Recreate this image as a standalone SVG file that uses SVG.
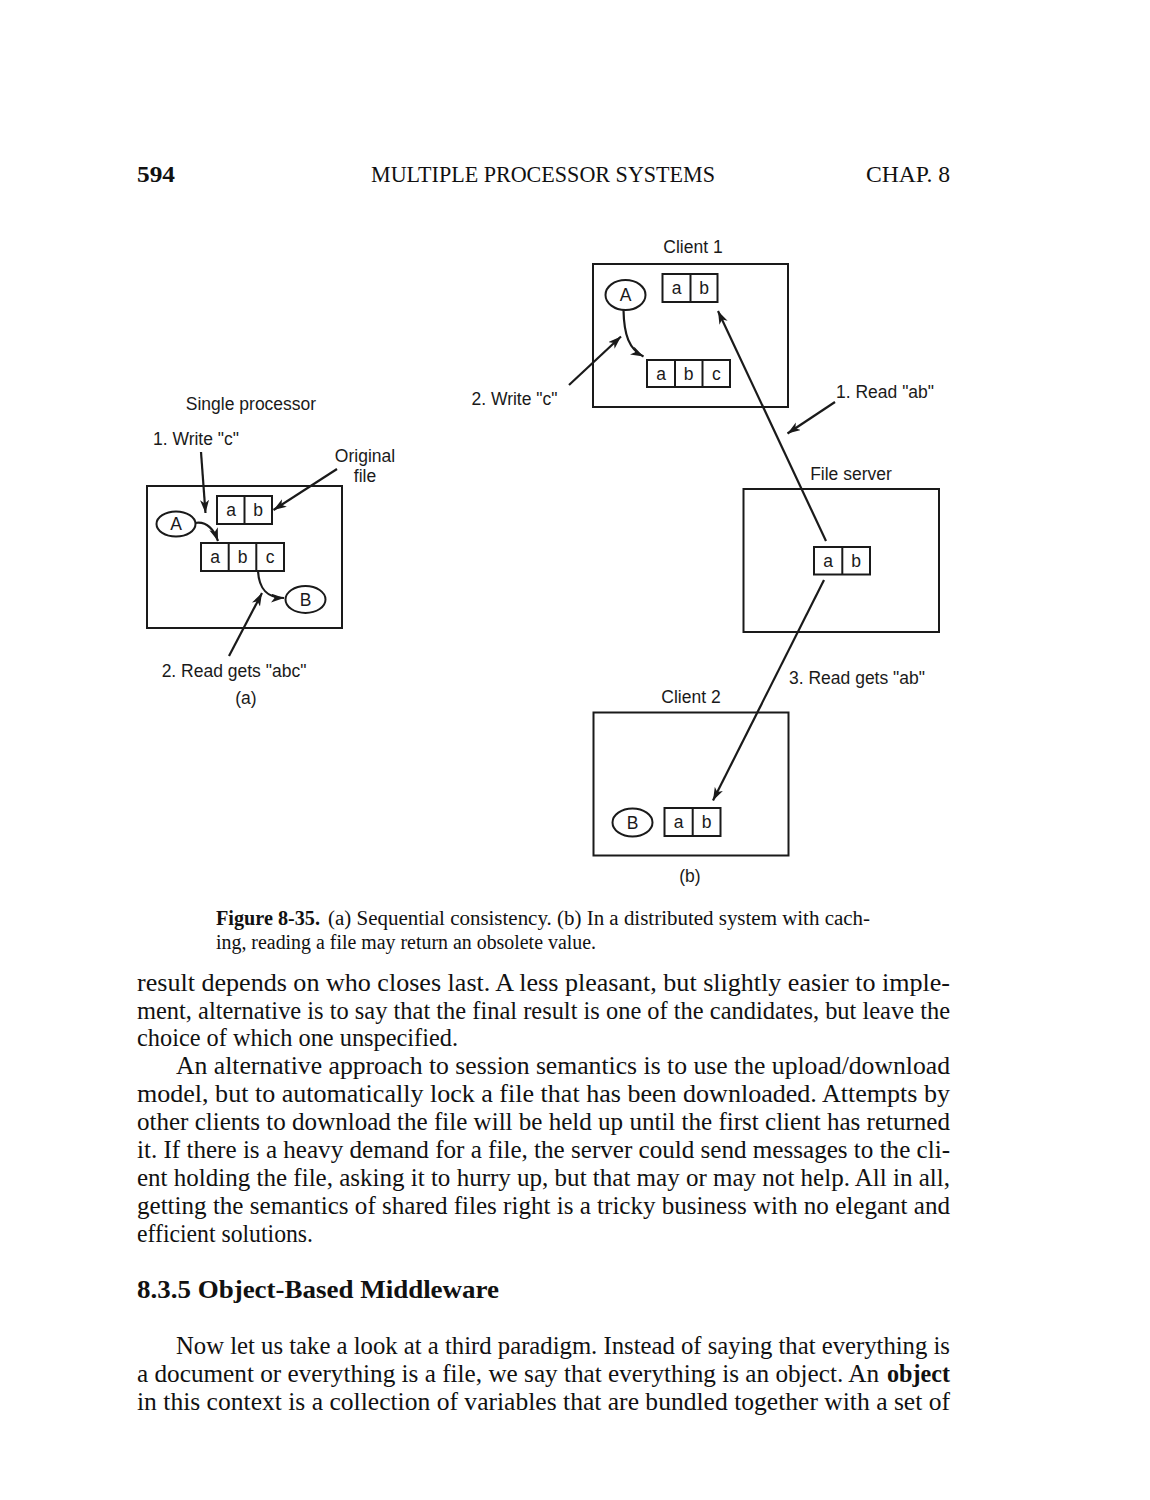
<svg xmlns="http://www.w3.org/2000/svg" width="1150" height="1500" viewBox="0 0 1150 1500">
<style>
.bg{fill:#ffffff}
.box{fill:none;stroke:#1a1a1a;stroke-width:2}
.ln{fill:none;stroke:#1a1a1a;stroke-width:2.2}
.lbl{font-family:"Liberation Sans",Arial,sans-serif;font-size:17.5px;fill:#1a1a1a}
.c{text-anchor:middle}
.cell{font-family:"Liberation Sans",Arial,sans-serif;font-size:17.5px;fill:#1a1a1a;text-anchor:middle}
.body{font-family:"Liberation Serif","Times New Roman",serif;font-size:25px;fill:#111}
.cap{font-family:"Liberation Serif","Times New Roman",serif;font-size:20px;fill:#111}
.hdr{font-family:"Liberation Serif","Times New Roman",serif;font-size:24px;fill:#111}
.b{font-weight:bold}
</style>
<defs>
<marker id="ah" markerUnits="userSpaceOnUse" markerWidth="14" markerHeight="10" refX="13" refY="4.5" orient="auto">
<path d="M0,0 L13,4.5 L0,9 L3.5,4.5 z" fill="#1a1a1a"/>
</marker>
</defs>
<rect class="bg" x="0" y="0" width="1150" height="1500"/>

<g id="header">
<text class="hdr b" x="137" y="182" font-size="31" textLength="38" lengthAdjust="spacingAndGlyphs">594</text>
<text class="hdr" x="371" y="182" textLength="344" lengthAdjust="spacingAndGlyphs">MULTIPLE PROCESSOR SYSTEMS</text>
<text class="hdr" x="866" y="182" textLength="84" lengthAdjust="spacingAndGlyphs">CHAP.  8</text>
</g>

<!-- Part (a) -->
<g id="a-title"><text class="lbl c" x="251" y="410">Single processor</text></g>
<g id="a-processor"><rect class="box" x="147" y="486" width="195" height="142"/></g>
<g id="a-file-ab">
<rect class="box" x="217" y="496" width="55" height="28"/>
<line class="box" x1="244.5" y1="496" x2="244.5" y2="524"/>
<text class="cell" x="231" y="516">a</text><text class="cell" x="258" y="516">b</text>
</g>
<g id="a-file-abc">
<rect class="box" x="201" y="543" width="83" height="28"/>
<line class="box" x1="228.7" y1="543" x2="228.7" y2="571"/>
<line class="box" x1="256.3" y1="543" x2="256.3" y2="571"/>
<text class="cell" x="215" y="563">a</text><text class="cell" x="242.5" y="563">b</text><text class="cell" x="270" y="563">c</text>
</g>
<g id="a-A"><ellipse class="box" cx="176" cy="524" rx="19.5" ry="12.5"/><text class="cell" x="176" y="530">A</text></g>
<g id="a-B"><ellipse class="box" cx="305.5" cy="599.5" rx="20" ry="13.5"/><text class="cell" x="305.5" y="605.5">B</text></g>
<g id="a-labels">
<text class="lbl" x="153" y="445">1. Write "c"</text>
<text class="lbl c" x="365" y="462">Original</text>
<text class="lbl c" x="365" y="482">file</text>
<text class="lbl c" x="234" y="677">2. Read gets "abc"</text>
<text class="lbl c" x="246" y="704">(a)</text>
</g>

<!-- Part (b) -->
<g id="b-client1">
<text class="lbl c" x="693" y="253">Client 1</text>
<rect class="box" x="593" y="264" width="195" height="143"/>
</g>
<g id="b-c1-A"><ellipse class="box" cx="625.5" cy="295" rx="20" ry="15"/><text class="cell" x="625.5" y="301">A</text></g>
<g id="b-c1-ab">
<rect class="box" x="662.5" y="274" width="55" height="28"/>
<line class="box" x1="690.5" y1="274" x2="690.5" y2="302"/>
<text class="cell" x="676.5" y="294">a</text><text class="cell" x="704" y="294">b</text>
</g>
<g id="b-c1-abc">
<rect class="box" x="647" y="360" width="83" height="27"/>
<line class="box" x1="675" y1="360" x2="675" y2="387"/>
<line class="box" x1="702.5" y1="360" x2="702.5" y2="387"/>
<text class="cell" x="661" y="379.5">a</text><text class="cell" x="688.7" y="379.5">b</text><text class="cell" x="716.3" y="379.5">c</text>
</g>
<g id="b-server">
<text class="lbl c" x="851" y="480">File server</text>
<rect class="box" x="743.5" y="489" width="195.5" height="143"/>
</g>
<g id="b-server-ab">
<rect class="box" x="814" y="547" width="56" height="27.5"/>
<line class="box" x1="842.3" y1="547" x2="842.3" y2="574.5"/>
<text class="cell" x="828" y="567">a</text><text class="cell" x="856" y="567">b</text>
</g>
<g id="b-client2">
<text class="lbl c" x="691" y="703">Client 2</text>
<rect class="box" x="593.5" y="712.5" width="195" height="143"/>
</g>
<g id="b-c2-B"><ellipse class="box" cx="632.5" cy="822.5" rx="20" ry="14"/><text class="cell" x="632.5" y="828.5">B</text></g>
<g id="b-c2-ab">
<rect class="box" x="664.5" y="808" width="56" height="28"/>
<line class="box" x1="692.7" y1="808" x2="692.7" y2="836"/>
<text class="cell" x="678.5" y="828">a</text><text class="cell" x="706.5" y="828">b</text>
</g>
<g id="b-labels">
<text class="lbl c" x="514.5" y="405">2. Write "c"</text>
<text class="lbl" x="836" y="398">1. Read "ab"</text>
<text class="lbl c" x="857" y="684">3. Read gets "ab"</text>
<text class="lbl c" x="690" y="882">(b)</text>
</g>

<g id="connectors">
<line class="ln" x1="201" y1="452" x2="205.5" y2="513" marker-end="url(#ah)"/>
<line class="ln" x1="337" y1="469" x2="273.5" y2="510" marker-end="url(#ah)"/>
<line class="ln" x1="229" y1="656" x2="262" y2="593" marker-end="url(#ah)"/>
<path class="ln" d="M195,523 C207,521 214,530 218,541" marker-end="url(#ah)"/>
<path class="ln" d="M258,571 C259,588 266,598 284,598" marker-end="url(#ah)"/>
<path class="ln" d="M623.5,310 C624,335 629,349 643.5,356.5" marker-end="url(#ah)"/>
<line class="ln" x1="569" y1="385" x2="621" y2="336.5" marker-end="url(#ah)"/>
<line class="ln" x1="835" y1="402" x2="787.5" y2="433.5" marker-end="url(#ah)"/>
<line class="ln" x1="826" y1="541" x2="718" y2="311" marker-end="url(#ah)"/>
<line class="ln" x1="824" y1="580" x2="713" y2="800.5" marker-end="url(#ah)"/>
</g>

<g id="caption">
<text class="cap b" x="216" y="925" textLength="104" lengthAdjust="spacingAndGlyphs">Figure 8-35.</text>
<text class="cap" x="328" y="925" textLength="542" lengthAdjust="spacingAndGlyphs">(a) Sequential consistency.  (b) In a distributed system with cach-</text>
<text class="cap" x="216" y="949" textLength="380" lengthAdjust="spacingAndGlyphs">ing, reading a file may return an obsolete value.</text>
</g>

<g id="body">
<text class="body" x="137" y="991" textLength="813" lengthAdjust="spacingAndGlyphs">result depends on who closes last.  A less pleasant, but slightly easier to imple-</text>
<text class="body" x="137" y="1019" textLength="813" lengthAdjust="spacingAndGlyphs">ment, alternative is to say that the final result is one of the candidates, but leave the</text>
<text class="body" x="137" y="1046" textLength="321" lengthAdjust="spacingAndGlyphs">choice of which one unspecified.</text>
<text class="body" x="176" y="1074" textLength="774" lengthAdjust="spacingAndGlyphs">An alternative approach to session semantics is to use the upload/download</text>
<text class="body" x="137" y="1102" textLength="813" lengthAdjust="spacingAndGlyphs">model, but to automatically lock a file that has been downloaded. Attempts by</text>
<text class="body" x="137" y="1130" textLength="813" lengthAdjust="spacingAndGlyphs">other clients to download the file will be held up until the first client has returned</text>
<text class="body" x="137" y="1158" textLength="813" lengthAdjust="spacingAndGlyphs">it.  If there is a heavy demand for a file, the server could send messages to the cli-</text>
<text class="body" x="137" y="1186" textLength="813" lengthAdjust="spacingAndGlyphs">ent holding the file, asking it to hurry up, but that may or may not help. All in all,</text>
<text class="body" x="137" y="1214" textLength="813" lengthAdjust="spacingAndGlyphs">getting the semantics of shared files right is a tricky business with no elegant and</text>
<text class="body" x="137" y="1242" textLength="176" lengthAdjust="spacingAndGlyphs">efficient solutions.</text>
<text class="body b" x="137" y="1298" font-size="27" textLength="362" lengthAdjust="spacingAndGlyphs">8.3.5  Object-Based Middleware</text>
<text class="body" x="176" y="1354" textLength="774" lengthAdjust="spacingAndGlyphs">Now let us take a look at a third paradigm. Instead of saying that everything is</text>
<text class="body" x="137" y="1382" textLength="742" lengthAdjust="spacingAndGlyphs">a document or everything is a file, we say that everything is an object.  An</text>
<text class="body b" x="887" y="1382" textLength="63" lengthAdjust="spacingAndGlyphs">object</text>
<text class="body" x="137" y="1410" textLength="813" lengthAdjust="spacingAndGlyphs">in this context is a collection of variables that are bundled together with a set of</text>
</g>
</svg>
